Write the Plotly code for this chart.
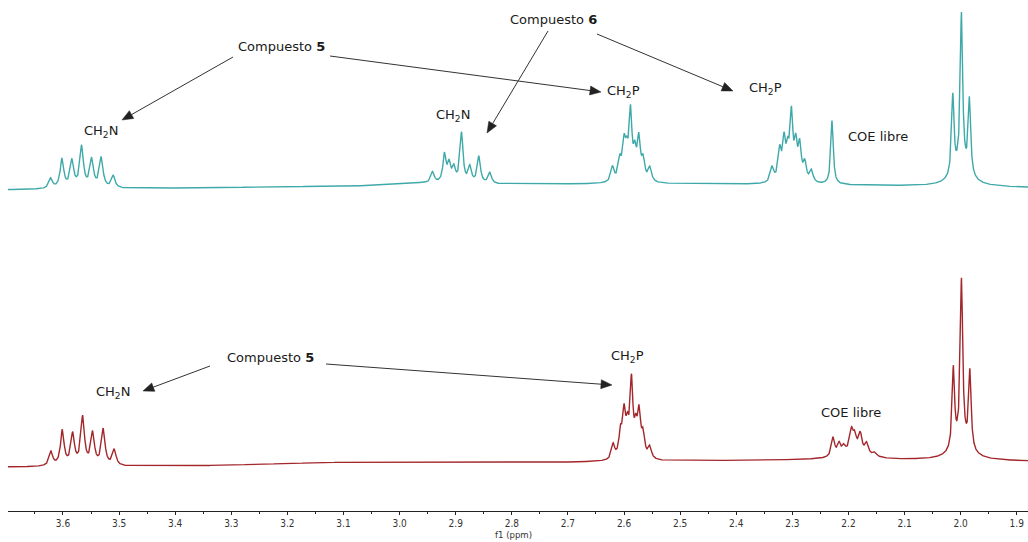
import numpy as np
import plotly.graph_objects as go

# ---------------- data: peak lists ----------------
# top spectrum (teal): peak centres (ppm), heights (a.u.), half widths (ppm)
top_ppm = [3.6219, 3.6018, 3.5840, 3.5667, 3.5489, 3.5318, 3.5104,
           2.9412, 2.9200, 2.9117, 2.9033, 2.8896, 2.8748, 2.8587, 2.8391,
           2.6205, 2.6075, 2.5998, 2.5950, 2.5884, 2.5807, 2.5736, 2.5659, 2.5540,
           2.3361, 2.3224, 2.3147, 2.3082, 2.3016, 2.2939, 2.2868, 2.2779, 2.2660,
           2.2292,
           2.0140, 1.9986, 1.9843, 1.9990]
top_height = [10, 29, 27, 41, 28, 30, 12,
              11, 28, 18, 14, 50, 16, 27, 11,
              15, 20, 34, 22, 66, 25, 40, 20, 14,
              15, 30, 38, 25, 64, 34, 34, 18, 12,
              64,
              80, 156, 76, 14]
top_width = [0.0038, 0.0038, 0.0038, 0.0038, 0.0038, 0.0038, 0.0038,
             0.0036, 0.0034, 0.0034, 0.0034, 0.0032, 0.0034, 0.0034, 0.0036,
             0.0034, 0.0034, 0.0032, 0.0032, 0.0030, 0.0032, 0.0032, 0.0034, 0.0036,
             0.0036, 0.0034, 0.0032, 0.0032, 0.0030, 0.0032, 0.0032, 0.0034, 0.0036,
             0.0026,
             0.0026, 0.0026, 0.0026, 0.0200]
# slow baseline humps of the top spectrum: centre, height, sigma (ppm)
top_base_ppm = [2.60, 2.97]
top_base_height = [7, 2]
top_base_sigma = [0.60, 0.03]

# bottom spectrum (dark red)
bot_ppm = [3.6214, 3.6012, 3.5827, 3.5649, 3.5471, 3.5282, 3.5086,
           2.6194, 2.6063, 2.5998, 2.5938, 2.5867, 2.5790, 2.5731, 2.5660, 2.5541,
           2.2274, 2.2167, 2.2083, 2.1946, 2.1887, 2.1790, 2.1674, 2.1532, 2.1900,
           2.0130, 1.9985, 1.9835, 1.9990]
bot_height = [14, 35, 31, 48, 32, 36, 16,
              15, 24, 42, 25, 74, 25, 42, 22, 12,
              19, 11, 7, 20, 13, 18, 11, 4, 8,
              80, 164, 78, 14]
bot_width = [0.0038, 0.0038, 0.0038, 0.0038, 0.0038, 0.0038, 0.0038,
             0.0034, 0.0034, 0.0032, 0.0032, 0.0030, 0.0032, 0.0032, 0.0034, 0.0036,
             0.0034, 0.0034, 0.0034, 0.0036, 0.0034, 0.0036, 0.0036, 0.0040, 0.0250,
             0.0026, 0.0026, 0.0026, 0.0200]
bot_base_ppm = [2.20, 3.05]
bot_base_height = [7, 3.5]
bot_base_sigma = [0.50, 0.18]

tick_vals = [3.6, 3.5, 3.4, 3.3, 3.2, 3.1, 3.0, 2.9, 2.8, 2.7, 2.6, 2.5, 2.4, 2.3, 2.2, 2.1, 2.0, 1.9]
tick_text = ["3.6", "3.5", "3.4", "3.3", "3.2", "3.1", "3.0", "2.9", "2.8", "2.7",
             "2.6", "2.5", "2.4", "2.3", "2.2", "2.1", "2.0", "1.9"]
axis_title = "f1 (ppm)"

# ---------------- build spectra ----------------
ppm = np.arange(1.875, 3.702, 0.0003)


def spectrum(centres, heights, widths, bc, bh, bs):
    y = np.zeros_like(ppm)
    for c, h, w in zip(centres, heights, widths):
        y += h * w * w / ((ppm - c) ** 2 + w * w)
    for c, h, s in zip(bc, bh, bs):
        y += h * np.exp(-((ppm - c) ** 2) / (2 * s * s))
    return y


top_y = spectrum(top_ppm, top_height, top_width, top_base_ppm, top_base_height, top_base_sigma)
bot_y = spectrum(bot_ppm, bot_height, bot_width, bot_base_ppm, bot_base_height, bot_base_sigma)

TEAL = "#3fa9a9"
RED = "#a3262b"

fig = go.Figure()
fig.add_trace(go.Scatter(x=ppm, y=top_y, mode="lines", line=dict(color=TEAL, width=1.4),
                         yaxis="y2", hoverinfo="skip", showlegend=False))
fig.add_trace(go.Scatter(x=ppm, y=bot_y, mode="lines", line=dict(color=RED, width=1.4),
                         yaxis="y", hoverinfo="skip", showlegend=False))

W, H = 1028, 542
ML, MR, MT, MB = 8, 0, 0, 31
PW, PH = W - ML - MR, H - MT - MB


def P(x, y):
    return (x - ML) / PW, 1 - (y - MT) / PH


TICKFONT = "Liberation Sans Narrow, DejaVu Sans Condensed, Arial Narrow, sans-serif"
fig.update_layout(
    width=W, height=H,
    margin=dict(l=ML, r=MR, t=MT, b=MB),
    paper_bgcolor="white", plot_bgcolor="white",
    xaxis=dict(range=[3.698, 1.880], showgrid=False, zeroline=False,
               showline=True, linecolor="#222", linewidth=1,
               ticks="outside", ticklen=3, tickcolor="#222",
               tickvals=tick_vals, ticktext=tick_text,
               tickfont=dict(family=TICKFONT, size=10, color="#333"),
               minor=dict(dtick=0.05, tick0=0, ticks="outside", ticklen=2, tickcolor="#222"),
               anchor="y", fixedrange=True),
    yaxis=dict(domain=[0, 1 - 200 / PH], range=[-44, 267], visible=False, fixedrange=True),
    yaxis2=dict(domain=[1 - 200 / PH, 1], range=[-9, 191], visible=False, fixedrange=True),
)

# axis title placed just under the tick labels
tx_, ty_ = P(513, 527)
fig.add_annotation(x=tx_, y=ty_, xref="paper", yref="paper", text=axis_title, showarrow=False,
                   font=dict(family=TICKFONT, size=9.5, color="#333"),
                   xanchor="center", yanchor="top")

FONT = dict(family="DejaVu Sans, Verdana, sans-serif", size=13, color="#1a1a1a")

labels = [
    ("Compuesto <b>5</b>", 281, 46),
    ("Compuesto <b>6</b>", 553, 19),
    ("CH<sub>2</sub>N", 101, 131),
    ("CH<sub>2</sub>N", 453, 115),
    ("CH<sub>2</sub>P", 623, 91),
    ("CH<sub>2</sub>P", 765, 89),
    ("COE libre", 878, 137),
    ("Compuesto <b>5</b>", 270, 357),
    ("CH<sub>2</sub>N", 113, 392),
    ("CH<sub>2</sub>P", 627, 356),
    ("COE libre", 851, 412),
]
for t, x, y in labels:
    px, py = P(x, y)
    fig.add_annotation(x=px, y=py, xref="paper", yref="paper", text=t, showarrow=False,
                       font=FONT, xanchor="center", yanchor="middle")

# arrows drawn as shapes: line plus filled arrow head
arrows = [
    ((233, 57), (122, 120)),
    ((330, 56), (601, 92)),
    ((548, 31), (487, 133)),
    ((597, 34), (733, 91)),
    ((210, 366), (143, 391)),
    ((326, 364), (612, 385)),
]
HEAD_L, HEAD_W = 11, 4.5
for (tx, ty), (hx, hy) in arrows:
    dx, dy = hx - tx, hy - ty
    n = (dx * dx + dy * dy) ** 0.5
    ux, uy = dx / n, dy / n
    bx, by = hx - ux * HEAD_L, hy - uy * HEAD_L
    x0, y0 = P(tx, ty)
    x1, y1 = P(bx, by)
    fig.add_shape(type="line", xref="paper", yref="paper", x0=x0, y0=y0, x1=x1, y1=y1,
                  line=dict(color="#333", width=1))
    pts = [(hx, hy), (bx - uy * HEAD_W, by + ux * HEAD_W), (bx + uy * HEAD_W, by - ux * HEAD_W)]
    path = "M " + " L ".join("%.5f,%.5f" % P(a, b) for a, b in pts) + " Z"
    fig.add_shape(type="path", xref="paper", yref="paper", path=path,
                  fillcolor="#222", line=dict(color="#222", width=0.5))

fig.write_html("out.html")
